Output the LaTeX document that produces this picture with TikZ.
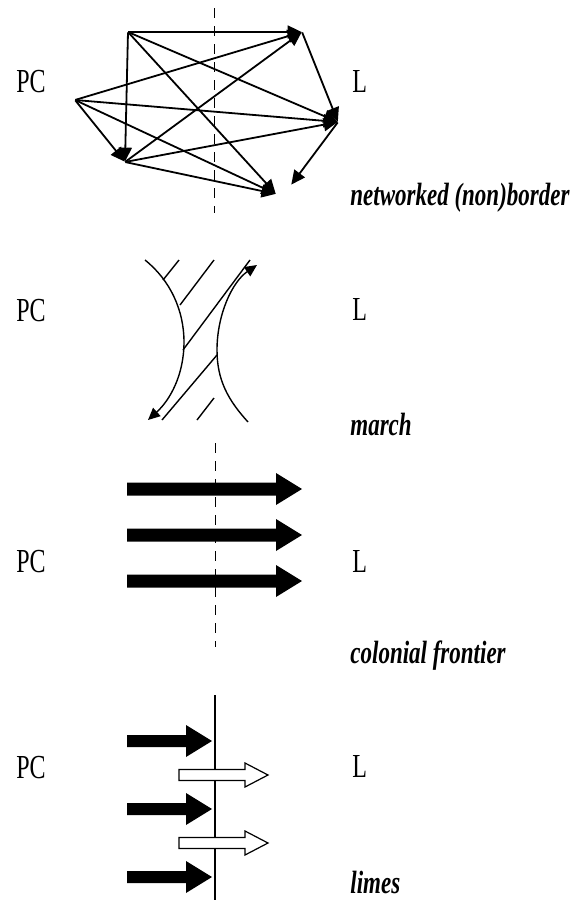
\documentclass[tikz,border=0pt]{standalone}
\usepackage{fontspec}
\setmainfont{Liberation Serif}
\usepackage{graphicx}
\usetikzlibrary{arrows.meta}

\newcommand{\tallt}[1]{\scalebox{1}[1.4]{#1}}

\begin{document}
\begin{tikzpicture}[x=0.5pt,y=-0.5pt,
  vtx/.style={inner sep=0pt,minimum size=0pt},
  lnk/.style={line width=0.9pt,-{Triangle[length=7pt,width=6.5pt]}},
  bdr/.style={line width=0.5pt,dash pattern=on 5pt off 4pt},
  side/.style={inner sep=0pt,anchor=base,font=\fontsize{12}{14}\selectfont},
  kind/.style={inner sep=0pt,anchor=base west,font=\fontsize{11.5}{14}\selectfont\bfseries\itshape},
  crv/.style={line width=0.7pt},
  tip/.style={-{Triangle[length=6pt,width=5.5pt]}}]
  \useasboundingbox (0,0) rectangle (578,900);

  % networked (non)border
  \node[side] (pc1) at (31,92) {\tallt{PC}};
  \node[side,anchor=base west] (l1) at (352,92) {\tallt{L}};
  \node[kind] (net) at (350,205) {\tallt{networked (non)border}};
  \draw[bdr] (214,8) -- (214,213);
  \node[vtx] (a) at (128,32) {};
  \node[vtx] (b) at (302,32) {};
  \node[vtx] (c) at (75,100) {};
  \node[vtx] (d) at (338,122) {};
  \node[vtx] (e) at (125,162) {};
  \node[vtx] (f) at (276,194) {};
  \node[vtx] (g) at (291,185) {};
  \draw[lnk] (a) -- (b);
  \draw[lnk] (a) -- (e);
  \draw[lnk] (a) -- (d);
  \draw[lnk] (a) -- (f);
  \draw[lnk] (c) -- (b);
  \draw[lnk] (c) -- (d);
  \draw[lnk] (c) -- (e);
  \draw[lnk] (c) -- (f);
  \draw[lnk] (e) -- (b);
  \draw[lnk] (e) -- (d);
  \draw[lnk] (e) -- (f);
  \draw[lnk] (b) -- (d);
  \draw[lnk] (d) -- (g);

  % march
  \node[side] (pc2) at (31,321) {\tallt{PC}};
  \node[side,anchor=base west] (l2) at (352,320) {\tallt{L}};
  \node[kind] (mar) at (350,435) {\tallt{march}};
  \draw[crv,tip] (145,260) .. controls (170,280) and (184,310) .. (184,342)
    .. controls (184,375) and (170,400) .. (148,420);
  \draw[crv,tip] (248,422) .. controls (228,400) and (217,380) .. (217,350)
    .. controls (217,315) and (232,282) .. (257,265);
  \draw[crv] (163,280) -- (179,260);
  \draw[crv] (180,305) -- (214,260);
  \draw[crv] (183,350) -- (250,260);
  \draw[crv] (162,420) -- (217,355);
  \draw[crv] (197,420) -- (214,398);

  % colonial frontier
  \node[side] (pc3) at (31,572) {\tallt{PC}};
  \node[side,anchor=base west] (l3) at (352,572) {\tallt{L}};
  \node[kind] (col) at (350,663) {\tallt{colonial frontier}};
  \draw[bdr] (215,443) -- (215,647);
  \foreach \y in {489,535,581}
    \fill (127,\y-6.5) -- (276,\y-6.5) -- (276,\y-16) -- (302,\y)
      -- (276,\y+16) -- (276,\y+6.5) -- (127,\y+6.5) -- cycle;

  % limes
  \node[side] (pc4) at (31,778) {\tallt{PC}};
  \node[side,anchor=base west] (l4) at (352,777) {\tallt{L}};
  \node[kind] (lim) at (350,893) {\tallt{limes}};
  \draw[line width=0.6pt] (215,695) -- (215,900);
  \foreach \y in {741,809,877}
    \fill (127,\y-6) -- (186,\y-6) -- (186,\y-16) -- (212,\y)
      -- (186,\y+16) -- (186,\y+6) -- (127,\y+6) -- cycle;
  \foreach \y in {775,843}
    \filldraw[fill=white,line width=0.6pt] (179,\y-5.5) -- (245,\y-5.5) -- (245,\y-12)
      -- (268,\y) -- (245,\y+12) -- (245,\y+5.5) -- (179,\y+5.5) -- cycle;
\end{tikzpicture}
\end{document}
